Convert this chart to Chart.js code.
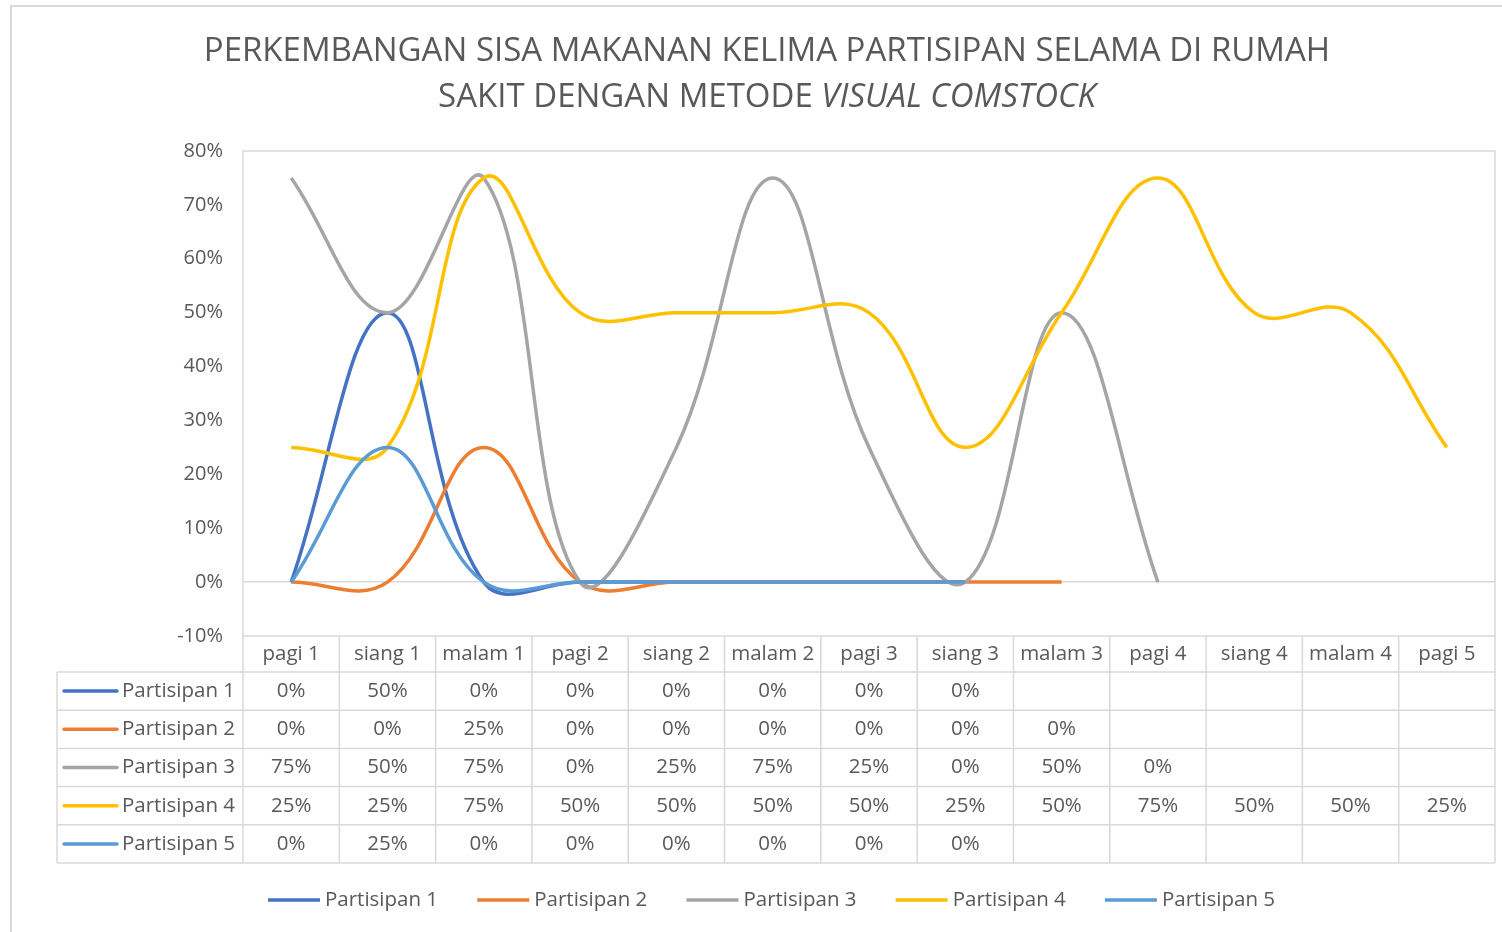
<!DOCTYPE html>
<html>
<head>
<meta charset="utf-8">
<script src="https://cdn.jsdelivr.net/npm/chart.js@4/dist/chart.umd.min.js"></script>
<style>
  html, body { margin: 0; padding: 0; background: #fff; }
  #wrap { width: 1502px; height: 932px; position: relative; }
</style>
</head>
<body>
<div id="wrap"><canvas id="chart"></canvas></div>
<script>
const categories = ['pagi 1', 'siang 1', 'malam 1', 'pagi 2', 'siang 2', 'malam 2', 'pagi 3',
    'siang 3', 'malam 3', 'pagi 4', 'siang 4', 'malam 4', 'pagi 5'];

// values in percent, null = no data
const partisipan1 = [0, 50, 0, 0, 0, 0, 0, 0, null, null, null, null, null];
const partisipan2 = [0, 0, 25, 0, 0, 0, 0, 0, 0, null, null, null, null];
const partisipan3 = [75, 50, 75, 0, 25, 75, 25, 0, 50, 0, null, null, null];
const partisipan4 = [25, 25, 75, 50, 50, 50, 50, 25, 50, 75, 50, 50, 25];
const partisipan5 = [0, 25, 0, 0, 0, 0, 0, 0, null, null, null, null, null];

const seriesNames = ['Partisipan 1', 'Partisipan 2', 'Partisipan 3', 'Partisipan 4', 'Partisipan 5'];
const seriesValues = [partisipan1, partisipan2, partisipan3, partisipan4, partisipan5];
const seriesColors = ['#4472C4', '#ED7D31', '#A5A5A5', '#FFC000', '#5B9BD5'];

const yMin = -10;
const yMax = 80;
const yStep = 10;

const titleLine1 = 'PERKEMBANGAN SISA MAKANAN KELIMA PARTISIPAN SELAMA DI RUMAH';
const titleLine2a = 'SAKIT DENGAN METODE ';
const titleLine2b = 'VISUAL COMSTOCK';

const FONT = "'Open Sans', sans-serif";
const TEXT = '#595959';
const LINE = '#D9D9D9';

// title, chart border, plot border, data table and legend
const excelBits = {
    id: 'excelBits',
    beforeDraw(chart) {
        const ctx = chart.ctx;
        ctx.save();
        ctx.fillStyle = '#fff';
        ctx.fillRect(0, 0, chart.width, chart.height);
        ctx.strokeStyle = LINE;
        ctx.lineWidth = 2;
        ctx.strokeRect(11, 6, chart.width + 20, chart.height + 20);
        ctx.restore();
    },
    afterDraw(chart) {
        const ctx = chart.ctx;
        const a = chart.chartArea;
        ctx.save();

        // title
        ctx.fillStyle = TEXT;
        ctx.textBaseline = 'middle';
        ctx.textAlign = 'left';
        const cx = 767;
        ctx.font = '33px ' + FONT;
        let w = ctx.measureText(titleLine1).width;
        ctx.fillText(titleLine1, cx - w / 2, 52);
        const wa = ctx.measureText(titleLine2a).width;
        ctx.font = 'italic 33px ' + FONT;
        const wb = ctx.measureText(titleLine2b).width;
        const sx = cx - (wa + wb) / 2;
        ctx.font = '33px ' + FONT;
        ctx.fillText(titleLine2a, sx, 98);
        ctx.font = 'italic 33px ' + FONT;
        ctx.fillText(titleLine2b, sx + wa, 98);

        // plot border
        ctx.strokeStyle = LINE;
        ctx.lineWidth = 1.5;
        ctx.strokeRect(a.left, a.top, a.right - a.left, a.bottom - a.top);

        // data table
        const n = categories.length;
        const colW = (a.right - a.left) / n;
        const headTop = a.bottom;
        const headBot = a.bottom + 36;
        const rowH = 38.2;
        const tabLeft = 57;
        const tabBot = headBot + rowH * seriesNames.length;

        ctx.beginPath();
        for (let i = 0; i <= n; i++) {
            const x = a.left + i * colW;
            ctx.moveTo(x, headTop);
            ctx.lineTo(x, tabBot);
        }
        ctx.moveTo(tabLeft, headBot);
        ctx.lineTo(tabLeft, tabBot);
        for (let r = 0; r <= seriesNames.length; r++) {
            const y = headBot + r * rowH;
            ctx.moveTo(tabLeft, y);
            ctx.lineTo(a.right, y);
        }
        ctx.stroke();

        ctx.font = '20.5px ' + FONT;
        ctx.fillStyle = TEXT;
        ctx.textAlign = 'center';
        categories.forEach((c, i) => {
            ctx.fillText(c, chart.scales.x.getPixelForValue(i), (headTop + headBot) / 2);
        });

        seriesNames.forEach((name, r) => {
            const yc = headBot + r * rowH + rowH / 2;
            ctx.strokeStyle = seriesColors[r];
            ctx.lineWidth = 3.5;
            ctx.lineCap = 'round';
            ctx.beginPath();
            ctx.moveTo(64, yc);
            ctx.lineTo(117, yc);
            ctx.stroke();
            ctx.textAlign = 'left';
            ctx.fillText(name, 122, yc);
            ctx.textAlign = 'center';
            seriesValues[r].forEach((v, i) => {
                if (v === null) return;
                ctx.fillText(v + '%', chart.scales.x.getPixelForValue(i), yc);
            });
        });

        // legend
        ctx.font = '20.5px ' + FONT;
        ctx.textAlign = 'left';
        const legY = 900;
        const keyW = 52;
        const keyGap = 5;
        const widths = seriesNames.map(s => keyW + keyGap + ctx.measureText(s).width);
        const total = 1007;
        const gap = (total - widths.reduce((p, q) => p + q, 0)) / (seriesNames.length - 1);
        let lx = 268;
        seriesNames.forEach((name, i) => {
            ctx.strokeStyle = seriesColors[i];
            ctx.lineWidth = 3.5;
            ctx.lineCap = 'butt';
            ctx.beginPath();
            ctx.moveTo(lx, legY);
            ctx.lineTo(lx + keyW, legY);
            ctx.stroke();
            ctx.fillText(name, lx + keyW + keyGap, legY);
            lx += widths[i] + gap;
        });

        ctx.restore();
    }
};

const datasets = seriesNames.map((name, i) => ({
    label: name,
    data: seriesValues[i],
    borderColor: seriesColors[i],
    backgroundColor: seriesColors[i],
    borderWidth: 3.5,
    pointRadius: 0,
    tension: 0.4,
    fill: false,
    order: seriesNames.length - i
}));

new Chart(document.getElementById('chart'), {
    type: 'line',
    data: { labels: categories, datasets: datasets },
    plugins: [excelBits],
    options: {
        responsive: true,
        maintainAspectRatio: false,
        animation: false,
        layout: { padding: { top: 151, left: 10, right: 7, bottom: 0 } },
        scales: {
            x: {
                offset: true,
                grid: { display: false },
                border: { display: false },
                ticks: { display: false },
                afterFit(s) { s.height = 296; }
            },
            y: {
                min: yMin,
                max: yMax,
                ticks: {
                    stepSize: yStep,
                    padding: 20,
                    color: TEXT,
                    font: { family: FONT, size: 20 },
                    callback: v => v + '%'
                },
                grid: {
                    drawTicks: false,
                    lineWidth: 1.5,
                    color: c => (c.tick && c.tick.value === 0 ? LINE : 'rgba(0,0,0,0)')
                },
                border: { display: false },
                afterFit(s) { s.width = 233; }
            }
        },
        plugins: {
            legend: { display: false },
            tooltip: { enabled: false }
        }
    }
});
</script>
</body>
</html>
